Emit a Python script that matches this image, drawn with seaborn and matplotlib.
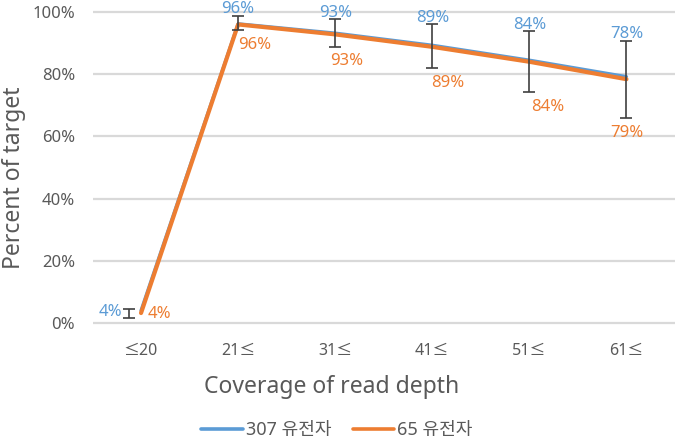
import matplotlib
matplotlib.use("Agg")
import matplotlib.pyplot as plt
import seaborn as sns
import pandas as pd
import numpy as np
from matplotlib.lines import Line2D

categories = ["≤20", "21≤", "31≤", "41≤", "51≤", "61≤"]
series_names = ["307 유전자", "65 유전자"]
blue_values = [4.0, 96.2, 93.2, 89.3, 84.5, 79.2]
orange_values = [3.2, 96.0, 92.8, 88.8, 84.0, 78.4]
blue_labels = ["4%", "96%", "93%", "89%", "84%", "78%"]
orange_labels = ["4%", "96%", "93%", "89%", "84%", "79%"]
err_low = [1.6, 94.2, 88.9, 82.0, 74.3, 65.9]
err_high = [4.5, 98.6, 97.6, 96.1, 93.9, 90.7]

BLUE = "#5B9BD5"
ORANGE = "#ED7D31"
GREY = "#595959"

sns.set_theme(style="white")
plt.rcParams['font.family'] = ['Noto Sans', 'Noto Sans CJK KR', 'DejaVu Sans']

fig = plt.figure(figsize=(6.75, 4.4), dpi=100)
ax = fig.add_axes([92.5 / 675, 1 - 326.1 / 440, 1 - 92.5 / 675, (326.1 - 8.9) / 440])

pos = np.arange(len(categories))
df = pd.DataFrame({
    "pos": np.concatenate([pos, pos]),
    "value": blue_values + orange_values,
    "series": [series_names[0]] * len(pos) + [series_names[1]] * len(pos),
})

sns.lineplot(data=df, x="pos", y="value", hue="series",
             palette={series_names[0]: BLUE, series_names[1]: ORANGE},
             ax=ax, legend=False, sort=False)
lines = ax.get_lines()
lines[0].set_linewidth(2.4)
lines[1].set_linewidth(3.0)
lines[1].set_zorder(4)
lines[0].set_zorder(3)
for l in lines:
    l.set_solid_capstyle("round")

# error bars
err_x = pos.astype(float).copy()
err_x[0] -= 0.12
low = np.array(err_low)
high = np.array(err_high)
mid = (low + high) / 2
ax.errorbar(err_x, mid, yerr=[mid - low, high - mid], fmt="none",
            ecolor="#404040", elinewidth=1.2, capsize=4, capthick=1.2, zorder=5)

# data labels
LBL = 12
blue_dy = [0, 5.6, 4.7, 4.7, 4.2, 4.7]
for i, (x, lab) in enumerate(zip(pos, blue_labels)):
    if i == 0:
        ax.annotate(lab, (err_x[0], blue_values[0]), xytext=(-14, -1),
                    textcoords="offset points", ha="center", va="center",
                    color=BLUE, fontsize=LBL)
    else:
        ax.annotate(lab, (x, high[i]), xytext=(0, blue_dy[i]),
                    textcoords="offset points", ha="center", va="center",
                    color=BLUE, fontsize=LBL, annotation_clip=False)
orange_dx = [0, 12, 8, 11, 13, 0]
for i, (x, lab) in enumerate(zip(pos, orange_labels)):
    if i == 0:
        ax.annotate(lab, (x, orange_values[0]), xytext=(13, -1),
                    textcoords="offset points", ha="center", va="center",
                    color=ORANGE, fontsize=LBL)
    else:
        ax.annotate(lab, (x, low[i]), xytext=(orange_dx[i], -10.7),
                    textcoords="offset points", ha="center", va="center",
                    color=ORANGE, fontsize=LBL)

ax.set_xlim(-0.5, len(categories) - 0.5)
ax.set_ylim(-1, 101)
ax.set_yticks([0, 20, 40, 60, 80, 100])
ax.set_yticklabels([f"{v}%" for v in [0, 20, 40, 60, 80, 100]])
ax.set_xticks(pos)
ax.set_xticklabels(categories)
ax.tick_params(axis="y", length=0, pad=12.6, labelsize=12, labelcolor=GREY)
ax.tick_params(axis="x", length=0, pad=12.5, labelsize=11.5, labelcolor=GREY)
ax.yaxis.grid(True, color="#D9D9D9", linewidth=1.6)
ax.set_axisbelow(True)
for s in ax.spines.values():
    s.set_visible(False)

ax.set_xlabel("Coverage of read depth", fontsize=16.5, color=GREY, va="center")
ax.xaxis.set_label_coords((332 - 92.5) / 582.5, (326.1 - 387) / 317.2)
ax.set_ylabel("Percent of target", fontsize=16.5, color=GREY, va="center")
ax.yaxis.set_label_coords((14 - 92.5) / 582.5, (326.1 - 178) / 317.2)

handles = [Line2D([], [], color=BLUE, lw=2.6, solid_capstyle="round"),
           Line2D([], [], color=ORANGE, lw=2.6, solid_capstyle="round")]
fig.legend(handles, series_names, loc="center", bbox_to_anchor=(337 / 675, 1 - 430 / 440),
           ncol=2, frameon=False, fontsize=13, handlelength=2.3, handletextpad=0.15,
           columnspacing=1.2, labelcolor=GREY, borderpad=0)

fig.savefig("out.png", dpi=100)
